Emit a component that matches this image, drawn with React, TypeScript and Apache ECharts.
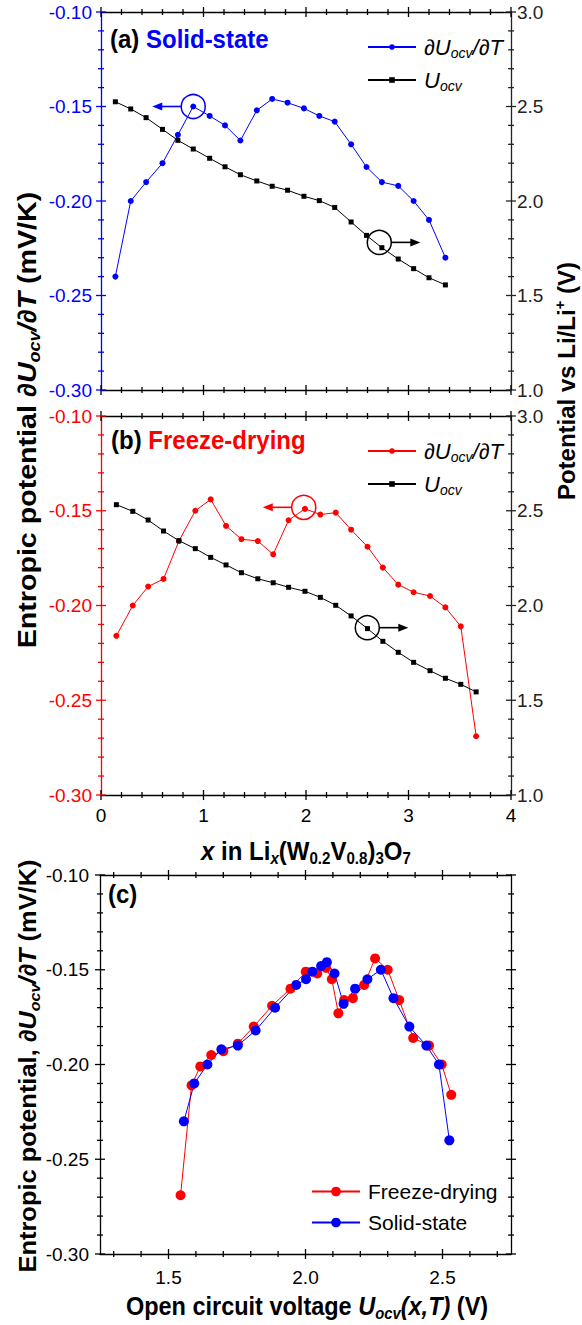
import React, { useEffect, useRef } from "react";
import * as echarts from "echarts";

const FONT = "'Liberation Sans', Arial, Helvetica, sans-serif";
const BLUE = "#0000FF";
const RED = "#FF0000";
const BLACK = "#000000";
const DARK = "#222222";

// (a) Solid-state: composition x, entropic potential (mV/K), OCV (V)
const xSolid = [0.14, 0.29, 0.44, 0.60, 0.75, 0.90, 1.06, 1.21, 1.36, 1.52, 1.67, 1.82, 1.98, 2.13, 2.28, 2.44, 2.59, 2.74, 2.90, 3.05, 3.20, 3.36];
const dUdTSolid = [-0.240, -0.200, -0.190, -0.180, -0.165, -0.150, -0.155, -0.160, -0.168, -0.152, -0.146, -0.148, -0.151, -0.155, -0.158, -0.170, -0.182, -0.190, -0.192, -0.200, -0.210, -0.230];
const uocvSolid = [2.525, 2.487, 2.441, 2.379, 2.321, 2.275, 2.226, 2.181, 2.139, 2.106, 2.078, 2.057, 2.025, 2.002, 1.966, 1.889, 1.818, 1.753, 1.693, 1.642, 1.594, 1.556];

// (b) Freeze-drying
const xFreeze = [0.15, 0.31, 0.46, 0.61, 0.76, 0.92, 1.07, 1.22, 1.37, 1.53, 1.68, 1.83, 1.99, 2.14, 2.29, 2.44, 2.60, 2.75, 2.90, 3.05, 3.21, 3.36, 3.51, 3.66];
const dUdTFreeze = [-0.216, -0.200, -0.190, -0.186, -0.166, -0.150, -0.144, -0.158, -0.165, -0.166, -0.173, -0.155, -0.149, -0.152, -0.151, -0.160, -0.169, -0.180, -0.189, -0.193, -0.195, -0.201, -0.211, -0.269];
const uocvFreeze = [2.532, 2.497, 2.451, 2.393, 2.342, 2.300, 2.254, 2.214, 2.173, 2.141, 2.120, 2.096, 2.075, 2.043, 2.001, 1.945, 1.878, 1.811, 1.753, 1.700, 1.656, 1.616, 1.584, 1.544];

// tick values
const compMajor = [0, 1, 2, 3, 4];
const entropyMajor = [-0.30, -0.25, -0.20, -0.15, -0.10];
const ocvMajor = [1.0, 1.5, 2.0, 2.5, 3.0];
const voltTicks = [1.3, 1.4, 1.5, 1.6, 1.7, 1.8, 1.9, 2.0, 2.1, 2.2, 2.3, 2.4, 2.5, 2.6, 2.7];
const voltLabels = [1.5, 2.0, 2.5];

// annotation anchors (data coordinates)
const annSolidEntropy = [0.90, -0.150];
const annSolidOcv = [2.715, 1.781];
const annFreezeEntropy = [1.978, -0.1482];
const annFreezeOcv = [2.598, 1.883];

const zip = (a: number[], b: number[]) => a.map((v, i) => [v, b[i]]);
const subdivide = (majors: number[], n: number) => {
  const out: number[] = [];
  for (let k = 0; k < majors.length - 1; k++) {
    for (let j = 1; j < n; j++) out.push(majors[k] + ((majors[k + 1] - majors[k]) * j) / n);
  }
  return out;
};

type Side = "bottom" | "top" | "left" | "right";
function axis(gridIndex: number, side: Side, min: number, max: number, interval: number | null, color: string, labels: boolean, digits: number, margin: number, labelValues?: number[]) {
  const label: any = {
    show: labels, color, fontSize: 19, fontFamily: FONT, margin,
    formatter: (v: number) => v.toFixed(digits),
  };
  if (labelValues) label.customValues = labelValues;
  const ax: any = {
    type: "value", gridIndex, position: side, min, max,
    splitLine: { show: false },
    axisLine: { show: true, onZero: false, lineStyle: { color, width: 1.3 } },
    axisTick: { show: false },
    minorTick: { show: false },
    axisLabel: label,
  };
  if (interval != null) ax.interval = interval;
  return ax;
}

const X_A = 0, X_B = 2, X_C = 4;
const Y_A = 0, Y_A_R = 1, Y_B = 2, Y_B_R = 3, Y_C = 4;

function buildOption() {
  const xAxis = [
    axis(0, "bottom", 0, 4, 1, BLACK, false, 0, 11),
    axis(0, "top", 0, 4, 1, BLACK, false, 0, 11),
    axis(1, "bottom", 0, 4, 1, BLACK, true, 0, 11),
    axis(1, "top", 0, 4, 1, BLACK, false, 0, 11),
    axis(2, "bottom", 1.25, 2.75, null, BLACK, true, 1, 14, voltLabels),
    axis(2, "top", 1.25, 2.75, null, BLACK, false, 1, 14, voltLabels),
  ];
  const yAxis = [
    axis(0, "left", -0.3, -0.1, 0.05, BLUE, true, 2, 9),
    axis(0, "right", 1, 3, 0.5, DARK, true, 1, 6),
    axis(1, "left", -0.3, -0.1, 0.05, RED, true, 2, 9),
    axis(1, "right", 1, 3, 0.5, DARK, true, 1, 6),
    axis(2, "left", -0.3, -0.1, 0.05, BLACK, true, 2, 11),
    axis(2, "right", -0.3, -0.1, 0.05, BLACK, false, 2, 11),
  ];

  const lineSeries = (name: string, xi: number, yi: number, data: number[][], color: string, symbol: string, size: number) => ({
    name, type: "line", xAxisIndex: xi, yAxisIndex: yi, data, symbol, symbolSize: size,
    itemStyle: { color }, lineStyle: { color, width: 1 }, emphasis: { disabled: true }, z: 3,
  });

  const legendRich = {
    i: { fontStyle: "italic", fontSize: 22, fontFamily: FONT, lineHeight: 26, color: BLACK },
    s: { fontStyle: "italic", fontSize: 14, fontFamily: FONT, lineHeight: 14, verticalAlign: "bottom", color: BLACK },
    n: { fontSize: 21, fontFamily: FONT, lineHeight: 24, color: BLACK },
  };
  const legendNames: Record<string, string> = {
    dA: "{i|∂U}{s|ocv}{i|/∂T}",
    UA: "{i|U}{s|ocv}",
    dB: "{i|∂U}{s|ocv}{i|/∂T}",
    UB: "{i|U}{s|ocv}",
    "Freeze-drying": "{n|Freeze-drying}",
    "Solid-state": "{n|Solid-state}",
  };
  const legend = (data: string[], left: number, top: number, ih: number, gap: number) => ({
    data, left, top, orient: "vertical", itemWidth: 48, itemHeight: ih, itemGap: gap, padding: 0,
    selectedMode: false,
    formatter: (n: string) => legendNames[n],
    textStyle: { fontFamily: FONT, color: BLACK, rich: legendRich, padding: [0, 0, 0, 3] },
  });

  return {
    animation: false,
    backgroundColor: "#ffffff",
    grid: [
      { left: 101, top: 12, width: 410, height: 378 },
      { left: 101, top: 416, width: 410, height: 379 },
      { left: 100, top: 875, width: 411, height: 379 },
    ],
    xAxis,
    yAxis,
    legend: [
      legend(["dA", "UA"], 367, 36, 7, 9),
      legend(["dB", "UB"], 367, 440, 7, 9),
      legend(["Freeze-drying", "Solid-state"], 311, 1181, 12, 10),
    ],
    series: [
      lineSeries("dA", X_A, Y_A, zip(xSolid, dUdTSolid), BLUE, "circle", 6),
      lineSeries("UA", X_A, Y_A_R, zip(xSolid, uocvSolid), BLACK, "rect", 5),
      lineSeries("dB", X_B, Y_B, zip(xFreeze, dUdTFreeze), RED, "circle", 6),
      lineSeries("UB", X_B, Y_B_R, zip(xFreeze, uocvFreeze), BLACK, "rect", 5),
      lineSeries("Freeze-drying", X_C, Y_C, zip(uocvFreeze, dUdTFreeze), RED, "circle", 10),
      lineSeries("Solid-state", X_C, Y_C, zip(uocvSolid, dUdTSolid), BLUE, "circle", 10),
    ],
  };
}

const titleRich = (fs: number): any => ({
  b: { fontSize: fs, fontWeight: "bold", fontFamily: FONT, lineHeight: fs + 4, fill: BLACK },
  bi: { fontSize: fs, fontWeight: "bold", fontStyle: "italic", fontFamily: FONT, lineHeight: fs + 4, fill: BLACK },
  sb: { fontSize: fs * 0.63, fontWeight: "bold", fontFamily: FONT, lineHeight: fs * 0.63, verticalAlign: "bottom", fill: BLACK },
  sbi: { fontSize: fs * 0.63, fontWeight: "bold", fontStyle: "italic", fontFamily: FONT, lineHeight: fs * 0.63, verticalAlign: "bottom", fill: BLACK },
  sp: { fontSize: fs * 0.63, fontWeight: "bold", fontFamily: FONT, lineHeight: fs * 0.63, verticalAlign: "top", fill: BLACK },
  blue: { fontSize: fs, fontWeight: "bold", fontFamily: FONT, lineHeight: fs + 4, fill: BLUE },
  red: { fontSize: fs, fontWeight: "bold", fontFamily: FONT, lineHeight: fs + 4, fill: RED },
});

function txt(text: string, x: number, y: number, rotate: boolean, fs: number, align = "center", sx = 1, sy = 1) {
  return {
    type: "text", x, y, rotation: rotate ? Math.PI / 2 : 0, scaleX: sx, scaleY: sy, z: 50,
    style: { text, rich: titleRich(fs), align, verticalAlign: "middle", fontFamily: FONT, fontSize: fs, fontWeight: "bold", fill: BLACK },
  };
}

function annotation(chart: any, seriesIndex: number, pt: number[], color: string, dir: number) {
  const [cx, cy] = chart.convertToPixel({ seriesIndex }, pt);
  const r = 12;
  const tip = cx + dir * 41;
  const head = 10;
  return [
    { type: "circle", z: 60, shape: { cx, cy, r }, style: { fill: "none", stroke: color, lineWidth: 1.5 } },
    { type: "line", z: 60, shape: { x1: cx + dir * r, y1: cy, x2: tip - dir * (head - 1), y2: cy }, style: { stroke: color, lineWidth: 1.6 } },
    { type: "polygon", z: 60, shape: { points: [[tip, cy], [tip - dir * head, cy - 4], [tip - dir * head, cy + 4]] }, style: { fill: color } },
  ];
}

// crossing tick marks, positioned through a series' coordinate system (the axes' own scales)
function xTicks(chart: any, s: number, yAt: number, majors: number[], minors: number[], color: string) {
  const els: any[] = [];
  const draw = (v: number, len: number) => {
    const [p, a] = chart.convertToPixel({ seriesIndex: s }, [v, yAt]) as number[];
    els.push({ type: "line", z: 40, shape: { x1: p, y1: a - len, x2: p, y2: a + len }, style: { stroke: color, lineWidth: 1.3 } });
  };
  majors.forEach((v) => draw(v, 5));
  minors.forEach((v) => draw(v, 3));
  return els;
}
function yTicks(chart: any, s: number, xAt: number, majors: number[], minors: number[], color: string) {
  const els: any[] = [];
  const draw = (v: number, len: number) => {
    const [a, p] = chart.convertToPixel({ seriesIndex: s }, [xAt, v]) as number[];
    els.push({ type: "line", z: 40, shape: { x1: a - len, y1: p, x2: a + len, y2: p }, style: { stroke: color, lineWidth: 1.3 } });
  };
  majors.forEach((v) => draw(v, 5));
  minors.forEach((v) => draw(v, 3));
  return els;
}

export default function App() {
  const ref = useRef<HTMLDivElement>(null);
  useEffect(() => {
    const chart = echarts.init(ref.current!, null, { renderer: "svg" });
    chart.setOption(buildOption() as any);

    const compMinor = subdivide(compMajor, 5);
    const entropyMinor = subdivide(entropyMajor, 5);
    const ocvMinor = subdivide(ocvMajor, 5);
    const voltMinor = voltTicks.filter((v) => voltLabels.indexOf(v) < 0);

    const tickEls: any[] = [
      // panel (a): series 0 uses the left axis, series 1 the right axis
      ...xTicks(chart, 0, -0.3, compMajor, compMinor, BLACK),
      ...xTicks(chart, 0, -0.1, compMajor, compMinor, BLACK),
      ...yTicks(chart, 0, 0, entropyMajor, entropyMinor, BLUE),
      ...yTicks(chart, 1, 4, ocvMajor, ocvMinor, DARK),
      // panel (b)
      ...xTicks(chart, 2, -0.3, compMajor, compMinor, BLACK),
      ...xTicks(chart, 2, -0.1, compMajor, compMinor, BLACK),
      ...yTicks(chart, 2, 0, entropyMajor, entropyMinor, RED),
      ...yTicks(chart, 3, 4, ocvMajor, ocvMinor, DARK),
      // panel (c)
      ...xTicks(chart, 4, -0.3, voltLabels, voltMinor, BLACK),
      ...xTicks(chart, 4, -0.1, voltLabels, voltMinor, BLACK),
      ...yTicks(chart, 4, 1.25, entropyMajor, entropyMinor, BLACK),
      ...yTicks(chart, 4, 2.75, entropyMajor, entropyMinor, BLACK),
    ];

    const elements: any[] = [
      ...tickEls,
      txt("{b|Entropic potential }{bi|∂U}{sbi|ocv}{bi|/∂T}{b| (mV/K)}", 27, 420, true, 26, "center", 1.1, 1),
      txt("{b|Potential vs Li/Li}{sp|+}{b| (V)}", 566, 381, true, 24, "center", 1.0, 1),
      txt("{bi|x}{b| in Li}{sbi|x}{b|(W}{sb|0.2}{b|V}{sb|0.8}{b|)}{sb|3}{b|O}{sb|7}", 306, 851, false, 24, "center", 1, 1.1),
      txt("{b|Entropic potential, }{bi|∂U}{sbi|ocv}{bi|/∂T}{b| (mV/K)}", 28, 1066, true, 24, "center", 1.06, 1),
      txt("{b|Open circuit voltage }{bi|U}{sbi|ocv}{bi|(x,T)}{b| (V)}", 307, 1306, false, 23.5, "center", 1, 1.1),
      txt("{b|(a) }{blue|Solid-state}", 110, 39, false, 24, "left", 1, 1.1),
      txt("{b|(b) }{red|Freeze-drying}", 111, 440, false, 24, "left", 1, 1.1),
      txt("{b|(c)}", 108, 894, false, 24, "left", 1, 1.1),
      ...annotation(chart, 0, annSolidEntropy, BLUE, -1),
      ...annotation(chart, 1, annSolidOcv, BLACK, 1),
      ...annotation(chart, 2, annFreezeEntropy, RED, -1),
      ...annotation(chart, 3, annFreezeOcv, BLACK, 1),
    ];
    chart.setOption({ graphic: { elements } });
    return () => chart.dispose();
  }, []);
  return <div ref={ref} style={{ position: "absolute", left: 0, top: 0, width: 582, height: 1325 }} />;
}
